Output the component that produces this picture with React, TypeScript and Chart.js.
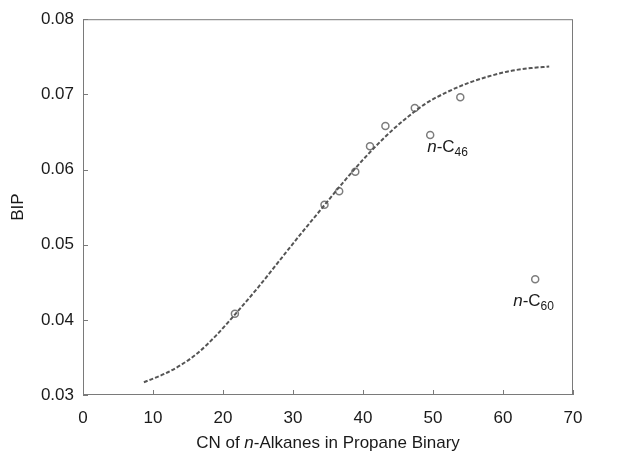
import { useEffect, useRef } from 'react';
import { Chart, registerables } from 'chart.js';

Chart.register(...registerables);

// Measured data points (CN vs BIP)
const pointCN = [21.7, 34.5, 36.6, 38.9, 41.0, 43.2, 47.4, 49.6, 53.9, 64.6];
const pointBIP = [0.0408, 0.0553, 0.0571, 0.0597, 0.0631, 0.0658, 0.0682, 0.0646, 0.0696, 0.0454];

// Correlation curve (dashed)
const curveCN = [8.7, 11.6, 14.0, 16.4, 19.0, 21.7, 25.0, 28.0, 31.0, 34.0, 37.0, 40.0, 43.0, 46.0, 49.0, 52.0, 55.0, 58.0, 61.0, 64.0, 66.6];
const curveBIP = [0.0317, 0.0328, 0.0340, 0.0356, 0.0379, 0.0407, 0.0443, 0.0478, 0.0513, 0.0547, 0.0581, 0.0613, 0.0642, 0.0667, 0.0688, 0.0703, 0.0715, 0.0724, 0.0731, 0.0735, 0.0737];

// Annotated points: index into point arrays, subscript label
const annoIndex = [7, 9];
const annoSub = ['46', '60'];

const xTitleParts = ['CN of ', 'n', '-Alkanes in Propane Binary'];
const yTitle = 'BIP';

const FONT = "'Liberation Sans', Arial, Helvetica, sans-serif";

const decorPlugin = {
  id: 'decor',
  afterDraw(chart: any) {
    const { ctx, chartArea } = chart;
    const xs = chart.scales.x;
    const ys = chart.scales.y;
    ctx.save();
    // frame
    ctx.strokeStyle = '#7a7a7a';
    ctx.lineWidth = 1;
    ctx.strokeRect(chartArea.left + 0.5, chartArea.top + 0.5, chartArea.right - chartArea.left - 1, chartArea.bottom - chartArea.top - 1);
    // inward ticks
    ctx.beginPath();
    xs.ticks.forEach((t: any) => {
      const px = Math.round(xs.getPixelForValue(t.value)) + 0.5;
      ctx.moveTo(px, chartArea.bottom);
      ctx.lineTo(px, chartArea.bottom - 5);
    });
    ys.ticks.forEach((t: any) => {
      const py = Math.round(ys.getPixelForValue(t.value)) + 0.5;
      ctx.moveTo(chartArea.left, py);
      ctx.lineTo(chartArea.left + 5, py);
    });
    ctx.stroke();

    // x title with italic n
    ctx.fillStyle = '#1a1a1a';
    ctx.textBaseline = 'alphabetic';
    ctx.textAlign = 'left';
    const fonts = [`17px ${FONT}`, `italic 17px ${FONT}`, `17px ${FONT}`];
    let total = 0;
    const widths = xTitleParts.map((p, i) => {
      ctx.font = fonts[i];
      const w = ctx.measureText(p).width;
      total += w;
      return w;
    });
    let cx = (chartArea.left + chartArea.right) / 2 - total / 2;
    xTitleParts.forEach((p, i) => {
      ctx.font = fonts[i];
      ctx.fillText(p, cx, 448);
      cx += widths[i];
    });

    // y title
    ctx.save();
    ctx.translate(18, (chartArea.top + chartArea.bottom) / 2);
    ctx.rotate(-Math.PI / 2);
    ctx.font = `17px ${FONT}`;
    ctx.textAlign = 'center';
    ctx.textBaseline = 'middle';
    ctx.fillText(yTitle, 0, 0);
    ctx.restore();

    // annotations n-C_xx
    const offsets = [
      { dx: -3, dy: 17 },
      { dx: -22, dy: 27 },
    ];
    annoIndex.forEach((idx, k) => {
      const px = xs.getPixelForValue(pointCN[idx]) + offsets[k].dx;
      const py = ys.getPixelForValue(pointBIP[idx]) + offsets[k].dy;
      ctx.textAlign = 'left';
      ctx.textBaseline = 'alphabetic';
      ctx.font = `italic 17px ${FONT}`;
      ctx.fillText('n', px, py);
      let w = ctx.measureText('n').width;
      ctx.font = `17px ${FONT}`;
      ctx.fillText('-C', px + w, py);
      w += ctx.measureText('-C').width;
      ctx.font = `12px ${FONT}`;
      ctx.fillText(annoSub[k], px + w, py + 4);
    });
    ctx.restore();
  },
};

export default function App() {
  const ref = useRef<HTMLCanvasElement | null>(null);
  useEffect(() => {
    if (!ref.current) return;
    const chart = new Chart(ref.current, {
      type: 'scatter',
      data: {
        datasets: [
          {
            label: 'curve',
            data: curveCN.map((x, i) => ({ x, y: curveBIP[i] })),
            showLine: true,
            borderColor: '#555555',
            borderWidth: 2,
            borderDash: [4, 2],
            pointRadius: 0,
            cubicInterpolationMode: 'monotone',
            fill: false,
          },
          {
            label: 'data',
            data: pointCN.map((x, i) => ({ x, y: pointBIP[i] })),
            showLine: false,
            pointRadius: 3.5,
            pointBorderWidth: 1.5,
            pointBackgroundColor: 'rgba(255,255,255,0)',
            pointBorderColor: '#7d7d7d',
          },
        ],
      },
      options: {
        animation: false,
        responsive: false,
        maintainAspectRatio: false,
        layout: { padding: { left: 0, top: 19, right: 46, bottom: 0 } },
        plugins: {
          legend: { display: false },
          tooltip: { enabled: false },
        },
        scales: {
          x: {
            type: 'linear',
            min: 0,
            max: 70,
            grid: { display: false, drawTicks: false },
            border: { display: false },
            ticks: {
              stepSize: 10,
              padding: 13,
              color: '#1a1a1a',
              font: { family: FONT, size: 17 },
              maxRotation: 0,
            },
            afterFit: (s: any) => {
              s.height = 58;
            },
          },
          y: {
            type: 'linear',
            min: 0.03,
            max: 0.08,
            grid: { display: false, drawTicks: false },
            border: { display: false },
            ticks: {
              stepSize: 0.01,
              padding: 9,
              color: '#1a1a1a',
              font: { family: FONT, size: 17 },
              callback: (v: any) => Number(v).toFixed(2),
            },
            afterFit: (s: any) => {
              s.width = 83;
            },
          },
        },
      },
      plugins: [decorPlugin],
    });
    return () => chart.destroy();
  }, []);
  return (
    <div style={{ position: 'fixed', left: 0, top: 0, width: 619, height: 453, background: '#fff' }}>
      <canvas ref={ref} width={619} height={453} style={{ width: 619, height: 453, display: 'block' }} />
    </div>
  );
}
